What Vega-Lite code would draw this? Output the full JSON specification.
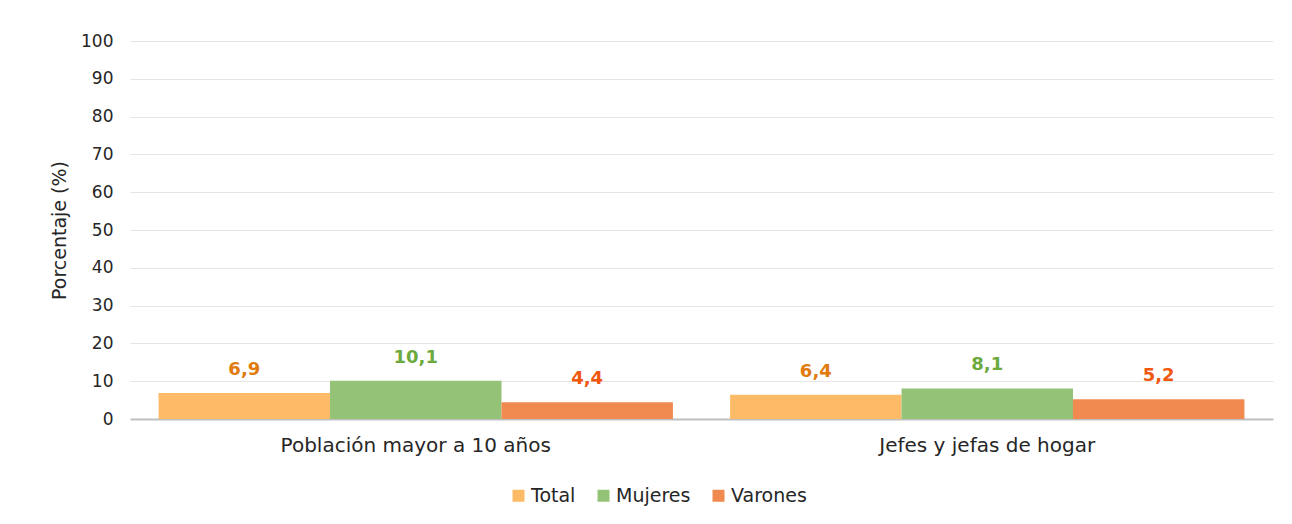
{
  "$schema": "https://vega.github.io/schema/vega-lite/v6.json",
  "width": 1143,
  "height": 378,
  "autosize": {"type": "none"},
  "padding": {"left": 130, "top": 41, "right": 19, "bottom": 105},
  "background": "white",
  "config": {
    "font": "DejaVu Sans",
    "view": {"stroke": null},
    "locale": {"number": {"decimal": ",", "thousands": ".", "grouping": [3], "currency": ["", ""]}}
  },
  "data": {
    "values": [
      {"grupo": "Población mayor a 10 años", "serie": "Total", "valor": 6.9},
      {"grupo": "Población mayor a 10 años", "serie": "Mujeres", "valor": 10.1},
      {"grupo": "Población mayor a 10 años", "serie": "Varones", "valor": 4.4},
      {"grupo": "Jefes y jefas de hogar", "serie": "Total", "valor": 6.4},
      {"grupo": "Jefes y jefas de hogar", "serie": "Mujeres", "valor": 8.1},
      {"grupo": "Jefes y jefas de hogar", "serie": "Varones", "valor": 5.2}
    ]
  },
  "encoding": {
    "x": {
      "field": "grupo", "type": "nominal", "sort": null,
      "scale": {"paddingInner": 0.1, "paddingOuter": 0.05},
      "axis": {
        "title": null, "labelAngle": 0, "labelFontSize": 20, "labelColor": "#262626", "labelLimit": 0,
        "labelPadding": 16, "ticks": false, "domainColor": "#BFBFBF", "domainWidth": 2,
        "grid": false
      }
    },
    "xOffset": {"field": "serie", "type": "nominal", "sort": ["Total", "Mujeres", "Varones"], "scale": {"paddingInner": 0, "paddingOuter": 0}},
    "y": {
      "field": "valor", "type": "quantitative",
      "scale": {"domain": [0, 100], "nice": false},
      "axis": {
        "title": "Porcentaje (%)", "titleFontSize": 19, "titleFontWeight": "normal", "titleColor": "#262626",
        "titlePadding": 11,
        "values": [0, 10, 20, 30, 40, 50, 60, 70, 80, 90, 100],
        "labelFontSize": 17, "labelColor": "#262626", "labelPadding": 17,
        "ticks": false, "domain": false, "gridColor": "#E6E6E6", "gridWidth": 1
      }
    }
  },
  "layer": [
    {
      "mark": {"type": "bar"},
      "encoding": {
        "color": {
          "field": "serie", "type": "nominal", "sort": ["Total", "Mujeres", "Varones"],
          "scale": {"domain": ["Total", "Mujeres", "Varones"], "range": ["#FDBB67", "#94C277", "#F18A51"]},
          "legend": {
            "title": null, "orient": "none", "direction": "horizontal",
            "legendX": 379, "legendY": 445,
            "symbolType": "square", "symbolSize": 144, "symbolStrokeWidth": 0, "symbolOpacity": 1,
            "labelFontSize": 19, "labelColor": "#262626", "labelOffset": 3,
            "columnPadding": 18
          }
        }
      }
    },
    {
      "mark": {"type": "text", "fontWeight": "bold", "fontSize": 18, "baseline": "bottom", "dy": -14},
      "encoding": {
        "text": {"field": "valor", "type": "quantitative", "format": ".1f"},
        "color": {
          "field": "serie", "type": "nominal",
          "scale": {"domain": ["Total", "Mujeres", "Varones"], "range": ["#E07B0C", "#6CAA3E", "#F0580F"]},
          "legend": null
        }
      }
    }
  ],
  "resolve": {"scale": {"color": "independent"}}
}
